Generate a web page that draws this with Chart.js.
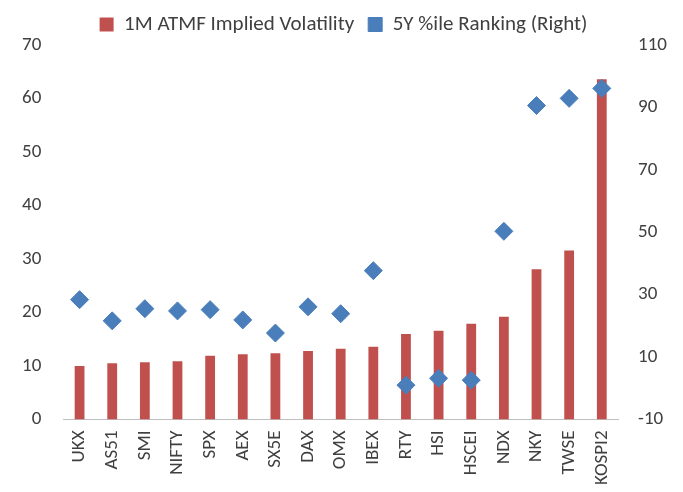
<!DOCTYPE html>
<html><head><meta charset="utf-8">
<script src="https://cdn.jsdelivr.net/npm/chart.js@4"></script>
<style>html,body{margin:0;background:#fff}#wrap{width:683px;height:492px}</style>
</head><body><div id="wrap"><canvas id="c"></canvas></div>
<script>
// Index names and values
const indices = ["UKX","AS51","SMI","NIFTY","SPX","AEX","SX5E","DAX","OMX","IBEX","RTY","HSI","HSCEI","NDX","NKY","TWSE","KOSPI2"];
const impliedVol = [10.0,10.5,10.7,10.9,11.9,12.2,12.4,12.8,13.2,13.6,16.0,16.6,17.9,19.2,28.1,31.6,63.6];
const pctRanking = [28.4,21.6,25.5,24.8,25.2,21.9,17.7,26.1,23.9,37.7,1.0,3.2,2.6,50.3,90.6,92.9,96.1];

Chart.defaults.font.family = "Carlito, 'Liberation Sans', sans-serif";
Chart.defaults.color = "#404040";
new Chart(document.getElementById("c"), {
    data: {
        labels: indices,
        datasets: [
            { type: "scatter", label: "5Y %ile Ranking (Right)", data: pctRanking, yAxisID: "y2",
              pointStyle: "rectRot", pointRadius: 9, pointHoverRadius: 9, backgroundColor: "#4a7ebb", borderColor: "#4a7ebb", order: 0 },
            { type: "bar", label: "1M ATMF Implied Volatility", data: impliedVol, yAxisID: "y",
              backgroundColor: "#c0504d", barPercentage: 0.3, categoryPercentage: 1, order: 1 }
        ]
    },
    options: {
        responsive: true, maintainAspectRatio: false, animation: false,
        layout: { padding: { left: 8, right: 4, top: 0, bottom: 4 } },
        plugins: {
            legend: { reverse: true, labels: { font: { size: 21 }, boxWidth: 14, boxHeight: 14, padding: 14 } },
            tooltip: { enabled: false }
        },
        scales: {
            x: { type: "category", offset: true, grid: { display: false }, border: { color: "#bfbfbf" },
                 ticks: { maxRotation: 90, minRotation: 90, font: { size: 19 } } },
            y: { position: "left", min: 0, max: 70, ticks: { stepSize: 10, padding: 14, font: { size: 19 } },
                 grid: { display: false }, border: { display: false } },
            y2: { position: "right", min: -10, max: 110, ticks: { stepSize: 20, padding: 12, font: { size: 19 } },
                  grid: { display: false }, border: { display: false } }
        }
    }
});
</script></body></html>
